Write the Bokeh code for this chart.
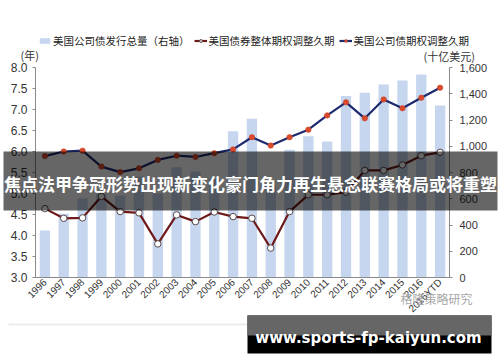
import math
from bokeh.plotting import figure
from bokeh.models import (Range1d, LinearAxis, FixedTicker, NumeralTickFormatter,
                          Legend, LegendItem, Label, BoxAnnotation, ColumnDataSource)
from bokeh.embed import file_html
from bokeh.resources import INLINE

# ---------------- data ----------------
years = ["1996", "1997", "1998", "1999", "2000", "2001", "2002", "2003", "2004", "2005",
         "2006", "2007", "2008", "2009", "2010", "2011", "2012", "2013", "2014", "2015",
         "2016", "2016YTD"]
issuance = [358, 485, 602, 640, 625, 770, 640, 840, 808, 750,
            1115, 1209, 700, 973, 1077, 1036, 1382, 1407, 1470, 1501,
            1547, 1310]
oad_all = [4.64, 4.41, 4.42, 4.93, 4.57, 4.54, 3.80, 4.49, 4.33, 4.56,
           4.45, 4.41, 3.70, 4.57, 4.97, 4.97, 5.03, 5.55, 5.55, 5.68,
           5.90, 5.98]
oad_corp = [5.89, 6.00, 6.02, 5.64, 5.51, 5.60, 5.80, 5.90, 5.87, 5.96,
            6.05, 6.34, 6.14, 6.34, 6.52, 6.86, 7.17, 6.79, 7.24, 7.03,
            7.28, 7.52]
left_ticks = [3.0, 3.5, 4.0, 4.5, 5.0, 5.5, 6.0, 6.5, 7.0, 7.5, 8.0]
right_ticks = [0, 200, 400, 600, 800, 1000, 1200, 1400, 1600]

legend_labels = ["美国公司债发行总量（右轴）", "美国债券整体期权调整久期", "美国公司债期权调整久期"]
banner_text = "焦点法甲争冠形势出现新变化豪门角力再生悬念联赛格局或将重塑"
site_text = "www.sports-fp-kaiyun.com"

idx = list(range(len(years)))
src = ColumnDataSource(dict(i=idx, iss=issuance, all=oad_all, corp=oad_corp))

# ---------------- layout geometry (canvas pixels) ----------------
W, H = 500, 362
FL, FR, FT, FB = 35, 449, 67, 277           # plot area inside the canvas
n = len(years)
ppc = (FR - FL) / n                          # pixels per category
ylo, yhi = left_ticks[0], left_ticks[-1]
rlo, rhi = right_ticks[0], right_ticks[-1]
ppy = (FB - FT) / (yhi - ylo)
ppr = (FB - FT) / (rhi - rlo)

x_range = Range1d(-0.5 - FL / ppc, n - 0.5 + (W - FR) / ppc)
y_range = Range1d(ylo - (H - FB) / ppy, yhi + FT / ppy)
r_range = Range1d(rlo - (H - FB) / ppr, rhi + FT / ppr)

p = figure(width=W, height=H, x_range=x_range, y_range=y_range,
           output_backend="svg", toolbar_location=None,
           x_axis_location=None, y_axis_location=None,
           min_border=0, min_border_left=0, min_border_right=0,
           min_border_top=0, min_border_bottom=0)
p.extra_y_ranges = {"r": r_range}
p.xgrid.visible = False
p.ygrid.visible = False
p.outline_line_color = None
p.background_fill_color = "white"
p.border_fill_color = "white"

AX = "#8a8a8a"
TXT = "#333333"

la = LinearAxis(fixed_location=-0.5, bounds=(ylo, yhi),
                ticker=FixedTicker(ticks=left_ticks),
                formatter=NumeralTickFormatter(format="0.0"))
ra = LinearAxis(y_range_name="r", fixed_location=n - 0.5, bounds=(rlo, rhi),
                ticker=FixedTicker(ticks=right_ticks),
                formatter=NumeralTickFormatter(format="0,0"))
for ax, size, so in [(la, "12px", 5), (ra, "11px", 7)]:
    ax.axis_line_color = AX
    ax.major_tick_line_color = AX
    ax.major_tick_out = 3
    ax.major_tick_in = 0
    ax.minor_tick_line_color = None
    ax.major_label_text_font = "Liberation Sans"
    ax.major_label_text_font_size = size
    ax.major_label_text_color = TXT
    ax.major_label_standoff = so
p.add_layout(la, "left")
p.add_layout(ra, "right")

xa = LinearAxis(fixed_location=ylo, bounds=(-0.5, n - 0.5),
                ticker=FixedTicker(ticks=idx),
                major_label_overrides={i: y for i, y in zip(idx, years)})
xa.axis_line_color = AX
xa.major_tick_line_color = None
xa.major_tick_out = 0
xa.minor_tick_line_color = None
xa.major_label_orientation = math.pi / 4
xa.major_label_text_font = "Liberation Sans"
xa.major_label_text_font_size = "10px"
xa.major_label_text_color = TXT
xa.major_label_standoff = 3
p.add_layout(xa, "below")

# ---------------- glyphs ----------------
bars = p.vbar(x="i", top="iss", bottom=0, width=0.55, source=src, y_range_name="r",
              fill_color="#c6d6ee", line_color=None)
l_all = p.line(x="i", y="all", source=src, line_color="#6e1a1a", line_width=2.2)
s_all = p.scatter(x="i", y="all", source=src, size=6.5, fill_color="white",
                  line_color="#5a4a4a", line_width=1)
l_corp = p.line(x="i", y="corp", source=src, line_color="#1e2a6e", line_width=2.2)
s_corp = p.scatter(x="i", y="corp", source=src, size=5.5, fill_color="#d84a2a",
                   line_color="#c8402a", line_width=0.5)

def sx(cx):
    return cx

def sy(cy):
    return H - cy

legend = Legend(items=[LegendItem(label=legend_labels[0], renderers=[bars]),
                       LegendItem(label=legend_labels[1], renderers=[l_all, s_all]),
                       LegendItem(label=legend_labels[2], renderers=[l_corp, s_corp])],
                orientation="horizontal", location=(sx(38), sy(48)),
                border_line_color=None, background_fill_alpha=0,
                label_text_font="Noto Sans CJK SC", label_text_font_size="10.5px",
                label_text_color="#222222", glyph_width=13, glyph_height=7,
                label_height=12, label_standoff=2, spacing=4, padding=0, margin=0)
p.add_layout(legend)

def lab(cx, cy, text, size, color=TXT, align="left", font="Noto Sans CJK SC", style="normal"):
    p.add_layout(Label(x=sx(cx), y=sy(cy), x_units="screen", y_units="screen", text=text,
                       text_align=align, text_baseline="middle", text_font=font,
                       text_font_size=size, text_color=color, text_font_style=style))

def box(l, r, t, b, color, alpha=1.0):
    p.add_layout(BoxAnnotation(left=sx(l), right=sx(r), top=sy(t), bottom=sy(b),
                               left_units="screen", right_units="screen",
                               top_units="screen", bottom_units="screen",
                               fill_color=color, fill_alpha=alpha, line_color=None))

lab(20, 54, "(年)", "11px")
lab(423, 55, "(十亿美元)", "11px")
lab(400, 298, "格隆策略研究", "12px", color="#a8a8a8")

# separator line at the bottom
box(8, 492, 323, 325, "#ececec")

# overlays
box(3, 497, 151, 210, "black", 0.6)
lab(250, 183, banner_text, "17px", color="white", align="center", style="bold")

box(247, 491, 315, 353, "black")
box(247, 491, 315, 335, "#666666")
lab(368, 337, site_text, "15px", color="white", align="center", font="DejaVu Sans", style="bold")

open("out.html", "w").write(file_html(p, INLINE))
